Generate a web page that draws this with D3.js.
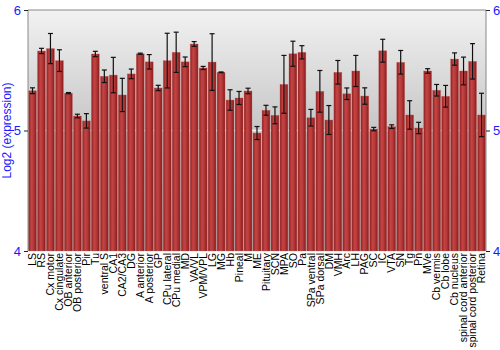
<!DOCTYPE html>
<html>
<head>
<meta charset="utf-8">
<script src="https://cdn.jsdelivr.net/npm/d3@7"></script>
<style>
  body { margin: 0; background: #fff; }
  svg { display: block; font-family: "Liberation Sans", Arial, sans-serif; }
  .tick-label { fill: #1a1aff; font-size: 13px; }
  .axis-title { fill: #1a1aff; font-size: 12px; }
  .x-label { fill: #000; font-size: 10.5px; }
</style>
</head>
<body>
<div id="chart"></div>
<script>
const regions = ['LS', 'RS', 'Cx motor', 'Cx cingulate', 'OB anterior', 'OB posterior', 'Pir', 'Tu',
  'ventral S', 'CA1', 'CA2/CA3', 'DG', 'A anterior', 'A posterior', 'GP', 'CPu lateral', 'CPu medial',
  'MD', 'VA/VL', 'VPM/VPL', 'LG', 'MG', 'Hb', 'Pineal', 'M', 'ME', 'Pituitary', 'SCN', 'MPA', 'SO', 'Pa',
  'SPa ventral', 'SPa dorsal', 'DM', 'VMH', 'Arc', 'LH', 'PAG', 'SC', 'IC', 'VTA', 'SN', 'Tg', 'Pn', 'MVe',
  'Cb vermis', 'Cb lobe', 'Cb nucleus', 'spinal cord anterior', 'spinal cord posterior', 'Retina'];

const means = [5.33, 5.66, 5.68, 5.58, 5.31, 5.12, 5.08, 5.635,
  5.45, 5.46, 5.295, 5.47, 5.637, 5.57, 5.353, 5.58, 5.649,
  5.57, 5.718, 5.519, 5.568, 5.483, 5.253, 5.27, 5.328, 4.979, 5.168, 5.126, 5.383, 5.637, 5.649,
  5.106, 5.325, 5.087, 5.483, 5.305, 5.494, 5.286, 5.012, 5.662, 5.032, 5.566, 5.129, 5.021, 5.494,
  5.334, 5.284, 5.593, 5.494, 5.574, 5.129];

const errors = [0.024, 0.022, 0.125, 0.09, 0.005, 0.015, 0.06, 0.022,
  0.052, 0.147, 0.138, 0.04, 0.005, 0.06, 0.022, 0.227, 0.167,
  0.04, 0.02, 0.013, 0.235, 0.003, 0.085, 0.054, 0.023, 0.054, 0.041, 0.07, 0.24, 0.104, 0.055,
  0.069, 0.173, 0.12, 0.098, 0.048, 0.129, 0.068, 0.014, 0.095, 0.015, 0.098, 0.118, 0.047, 0.019,
  0.048, 0.09, 0.051, 0.115, 0.147, 0.18];

const yTicks = [4, 5, 6];

const width = 500, height = 350;
const margin = { top: 10, right: 14, bottom: 99, left: 28 };
const plotW = width - margin.left - margin.right;
const plotH = height - margin.top - margin.bottom;

const data = regions.map((r, i) => ({ region: r, mean: means[i], err: errors[i] }));

const svg = d3.select('#chart').append('svg')
  .attr('width', width)
  .attr('height', height);

const defs = svg.append('defs');

const bg = defs.append('linearGradient')
  .attr('id', 'bg').attr('x1', 0).attr('y1', 0).attr('x2', 0).attr('y2', 1);
bg.append('stop').attr('offset', '0%').attr('stop-color', '#f2f2f2');
bg.append('stop').attr('offset', '50%').attr('stop-color', '#c6c6c6');
bg.append('stop').attr('offset', '100%').attr('stop-color', '#a8a8a8');

const barGrad = defs.append('linearGradient')
  .attr('id', 'bar').attr('x1', 0).attr('y1', 0).attr('x2', 1).attr('y2', 0);
barGrad.append('stop').attr('offset', '0%').attr('stop-color', '#8e1f1f');
barGrad.append('stop').attr('offset', '35%').attr('stop-color', '#c44444');
barGrad.append('stop').attr('offset', '60%').attr('stop-color', '#b83a3a');
barGrad.append('stop').attr('offset', '100%').attr('stop-color', '#861c1c');

const g = svg.append('g')
  .attr('transform', `translate(${margin.left},${margin.top})`);

const x = d3.scaleBand()
  .domain(regions)
  .range([0, plotW])
  .paddingInner(0.12)
  .paddingOuter(0.06);

const y = d3.scaleLinear()
  .domain([4, 6])
  .range([plotH, 0]);

g.append('rect')
  .attr('width', plotW)
  .attr('height', plotH)
  .attr('fill', 'url(#bg)');

// grid line at 5
g.append('line')
  .attr('x1', 0).attr('x2', plotW)
  .attr('y1', y(5)).attr('y2', y(5))
  .attr('stroke', '#f4f4f4')
  .attr('stroke-width', 1.5);

g.selectAll('.bar')
  .data(data)
  .join('rect')
  .attr('class', 'bar')
  .attr('x', d => x(d.region))
  .attr('y', d => y(d.mean))
  .attr('width', x.bandwidth())
  .attr('height', d => plotH - y(d.mean))
  .attr('fill', 'url(#bar)')
  .attr('stroke', '#d06060')
  .attr('stroke-opacity', 0.5)
  .attr('stroke-width', 0.6);

// error bars
const eb = g.selectAll('.err')
  .data(data)
  .join('g')
  .attr('class', 'err')
  .attr('transform', d => `translate(${x(d.region) + x.bandwidth() / 2},0)`);

eb.append('line')
  .attr('y1', d => y(d.mean + d.err))
  .attr('y2', d => y(d.mean - d.err))
  .attr('stroke', '#111')
  .attr('stroke-width', 1.2);

eb.selectAll('.cap')
  .data(d => [d.mean + d.err, d.mean - d.err])
  .join('line')
  .attr('class', 'cap')
  .attr('x1', -2.5).attr('x2', 2.5)
  .attr('y1', v => y(v)).attr('y2', v => y(v))
  .attr('stroke', '#111')
  .attr('stroke-width', 1.2);

// frame
g.append('line').attr('x1', 0).attr('x2', 0).attr('y1', 0).attr('y2', plotH)
  .attr('stroke', '#888');
g.append('line').attr('x1', plotW).attr('x2', plotW).attr('y1', 0).attr('y2', plotH)
  .attr('stroke', '#888');
g.append('line').attr('x1', 0).attr('x2', plotW).attr('y1', 0).attr('y2', 0)
  .attr('stroke', '#888');

// y axes both sides
const yAxisL = d3.axisLeft(y).tickValues(yTicks).tickSize(4).tickPadding(3).tickFormat(d3.format('d'));
const yAxisR = d3.axisRight(y).tickValues(yTicks).tickSize(4).tickPadding(3).tickFormat(d3.format('d'));

const yl = g.append('g').call(yAxisL);
const yr = g.append('g').attr('transform', `translate(${plotW},0)`).call(yAxisR);
[yl, yr].forEach(ax => {
  ax.select('.domain').remove();
  ax.selectAll('line').attr('stroke', '#222');
  ax.selectAll('text').attr('class', 'tick-label').attr('fill', null);
});

// x labels
const xAxis = d3.axisBottom(x).tickSize(0).tickPadding(2);
const xg = g.append('g').attr('transform', `translate(0,${plotH})`).call(xAxis);
xg.select('.domain').remove();
xg.selectAll('text')
  .attr('class', 'x-label')
  .attr('fill', null)
  .attr('transform', 'rotate(-90)')
  .attr('x', -2)
  .attr('y', 0)
  .attr('dy', '0.35em')
  .style('text-anchor', 'end');

svg.append('text')
  .attr('class', 'axis-title')
  .attr('transform', `translate(11,${margin.top + plotH / 2}) rotate(-90)`)
  .attr('text-anchor', 'middle')
  .text('Log2 (expression)');
</script>
</body>
</html>
